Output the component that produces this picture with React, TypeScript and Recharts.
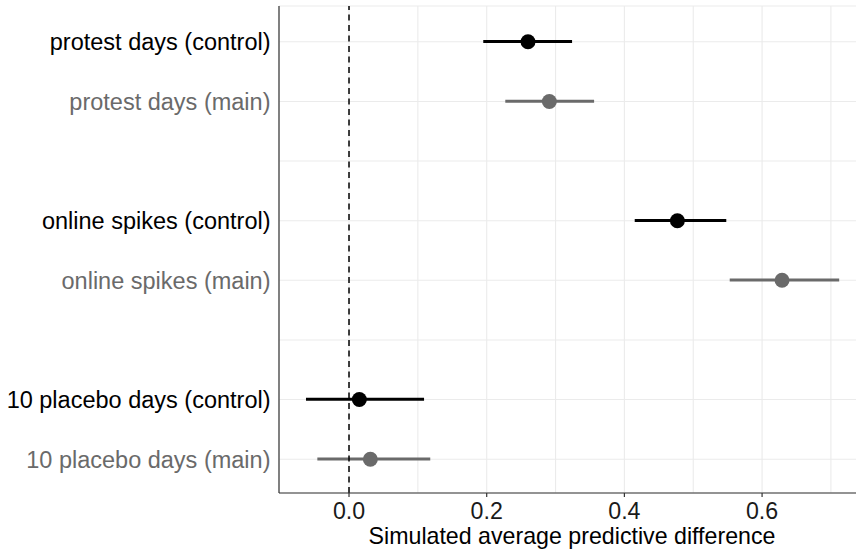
import React from 'react';
import {
  ComposedChart,
  XAxis,
  YAxis,
  CartesianGrid,
  Bar,
  Scatter,
  ReferenceLine,
  Cell,
} from 'recharts';

const labels = [
  'protest days (control)',
  'protest days (main)',
  ' ',
  'online spikes (control)',
  'online spikes (main)',
  '  ',
  '10 placebo days (control)',
  '10 placebo days (main)',
];
const models: (string | null)[] = ['control', 'main', null, 'control', 'main', null, 'control', 'main'];
const estimates: (number | null)[] = [0.26, 0.291, null, 0.477, 0.629, null, 0.015, 0.031];
const lower: (number | null)[] = [0.195, 0.227, null, 0.415, 0.553, null, -0.0625, -0.046];
const upper: (number | null)[] = [0.324, 0.356, null, 0.548, 0.712, null, 0.109, 0.118];
const majorTicks = [0, 0.2, 0.4, 0.6];
const gridTicks = [0, 0.1, 0.2, 0.3, 0.4, 0.5, 0.6, 0.7];
const xDomain: [number, number] = [-0.1017, 0.7495];
const xTitle = 'Simulated average predictive difference';

const modelColor: Record<string, string> = { control: '#000000', main: '#6a6a6a' };

const rows = labels.map((label, i) => ({
  label,
  model: models[i],
  est: estimates[i],
  range: lower[i] == null ? null : [lower[i], upper[i]],
}));

const YFONT = 23.5;
const XFONT = 23.2;

const YTick = (props: any) => {
  const { x, y, payload } = props;
  const idx = labels.indexOf(payload.value);
  const m = models[idx];
  const fill = m ? modelColor[m] : '#000';
  return (
    <text x={x} y={y} dy="0.355em" textAnchor="end" fill={fill} fontSize={YFONT}>
      {payload.value}
    </text>
  );
};

const XTick = (props: any) => {
  const { x, y, payload } = props;
  const v = payload.value as number;
  const isMajor = majorTicks.some((t) => Math.abs(t - v) < 1e-9);
  if (!isMajor) return <g />;
  return (
    <g>
      <line x1={x} x2={x} y1={y} y2={y + 4} stroke="#333333" strokeWidth={1.2} />
      <text x={x} y={y + 10} dy="0.71em" textAnchor="middle" fill="#1a1a1a" fontSize={XFONT}>
        {v.toFixed(1)}
      </text>
    </g>
  );
};

const Dot = (props: any) => {
  const { cx, cy, payload } = props;
  if (payload == null || payload.est == null || cx == null || cy == null) return <g />;
  return <circle cx={cx} cy={cy} r={7.5} fill={modelColor[payload.model]} />;
};

export default function App() {
  return (
    <div
      style={{
        position: 'absolute',
        left: 0,
        top: 0,
        width: 856,
        height: 552,
        overflow: 'hidden',
        background: '#fff',
        fontFamily: '"Liberation Sans", Arial, sans-serif',
      }}
    >
      <ComposedChart
        layout="vertical"
        width={880}
        height={552}
        data={rows}
        margin={{ top: 6, right: 15, bottom: 0, left: 0 }}
      >
        <CartesianGrid stroke="#EBEBEB" strokeWidth={1.1} />
        <XAxis
          type="number"
          domain={xDomain}
          ticks={gridTicks}
          interval={0}
          allowDataOverflow
          height={59}
          tickSize={0}
          tickMargin={0}
          axisLine={{ stroke: '#333333', strokeWidth: 1.2 }}
          tickLine={false}
          tick={<XTick />}
          label={{ value: xTitle, position: 'insideBottom', offset: 8, fill: '#000', fontSize: XFONT }}
        />
        <XAxis
          xAxisId="top"
          orientation="top"
          type="number"
          domain={xDomain}
          allowDataOverflow
          height={0}
          tick={false}
          tickLine={false}
          axisLine={{ stroke: '#333333', strokeWidth: 1.2 }}
        />
        <YAxis
          type="category"
          dataKey="label"
          width={279}
          padding={{ top: 6, bottom: 4 }}
          tickSize={0}
          tickMargin={8.5}
          tickLine={false}
          axisLine={{ stroke: '#333333', strokeWidth: 1.2 }}
          tick={<YTick />}
          interval={0}
        />
        <ReferenceLine x={0} stroke="#000" strokeWidth={1.5} strokeDasharray="6 4.5" />
        <Bar dataKey="range" barSize={3} isAnimationActive={false}>
          {rows.map((r, i) => (
            <Cell key={i} fill={r.model ? modelColor[r.model] : 'none'} />
          ))}
        </Bar>
        <Scatter dataKey="est" shape={<Dot />} isAnimationActive={false} />
      </ComposedChart>
    </div>
  );
}
